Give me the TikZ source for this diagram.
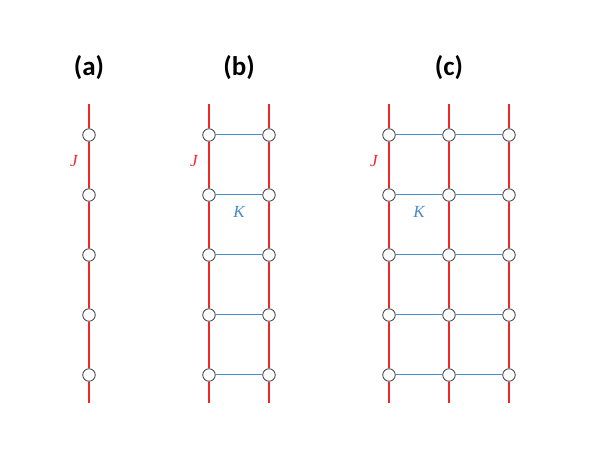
\documentclass[tikz,border=0pt]{standalone}
\usepackage{fontspec}
\setmainfont{Liberation Serif}
\newfontfamily\labelfont{Carlito}
\definecolor{jred}{rgb}{0.95,0.15,0.15}
\definecolor{kblue}{RGB}{70,140,200}
\tikzset{
  site/.style={circle,draw=black!75,fill=white,line width=0.8pt,minimum size=12.5pt,inner sep=0pt},
  chainline/.style={draw=jred,line width=1.3pt},
  rungline/.style={draw=kblue,line width=1pt},
  panel/.style={font=\labelfont\bfseries\fontsize{27}{30}\selectfont},
  coupling/.style={font=\itshape\fontsize{17}{19}\selectfont},
}
\begin{document}
\begin{tikzpicture}[x=1pt,y=-1pt]
\useasboundingbox (0,0) rectangle (598,449);
% sites and chain ends
\foreach \col/\x in {a1/89,b1/209,b2/269,c1/389,c2/449,c3/509} {
  \coordinate (\col-top) at (\x,104);
  \coordinate (\col-bot) at (\x,403);
  \foreach \i in {1,...,5}
    \node[site] (\col-\i) at (\x,75+60*\i) {};
}
% chains
\foreach \col in {a1,b1,b2,c1,c2,c3} {
  \draw[chainline] (\col-top) -- (\col-1);
  \foreach \i/\j in {1/2,2/3,3/4,4/5}
    \draw[chainline] (\col-\i) -- (\col-\j);
  \draw[chainline] (\col-5) -- (\col-bot);
}
% rungs
\foreach \i in {1,...,5} {
  \draw[rungline] (b1-\i) -- (b2-\i);
  \draw[rungline] (c1-\i) -- (c2-\i);
  \draw[rungline] (c2-\i) -- (c3-\i);
}
% panel titles
\node[panel] (ta) at (89,68) {(a)};
\node[panel] (tb) at (239,68) {(b)};
\node[panel] (tc) at (449,68) {(c)};
% couplings
\node[coupling,text=jred] (ja) at (74,161) {J};
\node[coupling,text=jred] (jb) at (194,161) {J};
\node[coupling,text=jred] (jc) at (374,161) {J};
\node[coupling,text=kblue] (kb) at (239,212) {K};
\node[coupling,text=kblue] (kc) at (419,212) {K};
\end{tikzpicture}
\end{document}
